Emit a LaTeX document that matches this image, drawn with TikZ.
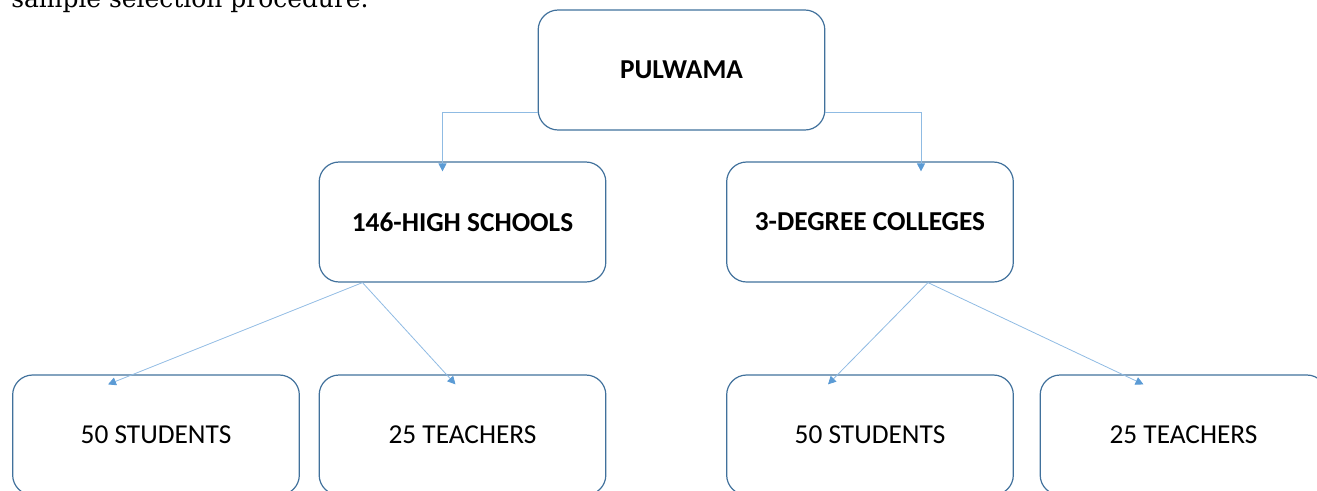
\documentclass[tikz,border=0pt]{standalone}
\usepackage{fontspec}
\newfontfamily\boxfont{Carlito}
\newfontfamily\notefont{DejaVu Serif}
\usetikzlibrary{arrows.meta,calc}
\definecolor{boxline}{HTML}{41719C}
\definecolor{linkline}{HTML}{8FBBE3}
\definecolor{linktip}{HTML}{5B9BD5}
\tikzset{
  unit/.style={draw=boxline,line width=0.9pt,rounded corners=15pt,minimum width=215pt,minimum height=90pt,font=\boxfont\fontsize{20.5}{24}\selectfont},
  head/.style={unit,font=\boxfont\bfseries\fontsize{20.5}{24}\selectfont},
  link/.style={draw=linkline,line width=0.6pt,-{Triangle[length=6pt,width=6pt,color=linktip]}},
}
\begin{document}
\begin{tikzpicture}[x=0.75pt,y=-0.75pt]
\useasboundingbox (0,0) rectangle (1317,490);
\clip (0,0) rectangle (1317,490);
\node[anchor=base west,inner sep=0pt,font=\notefont\fontsize{18.7}{22}\selectfont] (title) at (11,7) {sample selection procedure.};
\node[head] (pul) at (681.5,70) {PULWAMA};
\node[head] (hs) at (462.5,222) {146-HIGH SCHOOLS};
\node[head] (dc) at (870,222) {3-DEGREE COLLEGES};
\node[unit] (hsstu) at (156,435) {50 STUDENTS};
\node[unit] (hstea) at (462.5,435) {25 TEACHERS};
\node[unit] (dcstu) at (870,435) {50 STUDENTS};
\node[unit] (dctea) at (1183.5,435) {25 TEACHERS};
\draw[link] ($(pul.south west)+(0,-18)$) -| ($(hs.north)+(-20,10)$);
\draw[link] ($(pul.south east)+(0,-18)$) -| ($(dc.north)+(51,10)$);
\draw[link] ($(hs.south)+(-100,0)$) -- ($(hsstu.north)+(-48,10)$);
\draw[link] ($(hs.south)+(-100,0)$) -- ($(hstea.north)+(-7,10)$);
\draw[link] ($(dc.south)+(58,0)$) -- ($(dcstu.north)+(-42,10)$);
\draw[link] ($(dc.south)+(58,0)$) -- ($(dctea.north)+(-40,10)$);
\end{tikzpicture}
\end{document}
